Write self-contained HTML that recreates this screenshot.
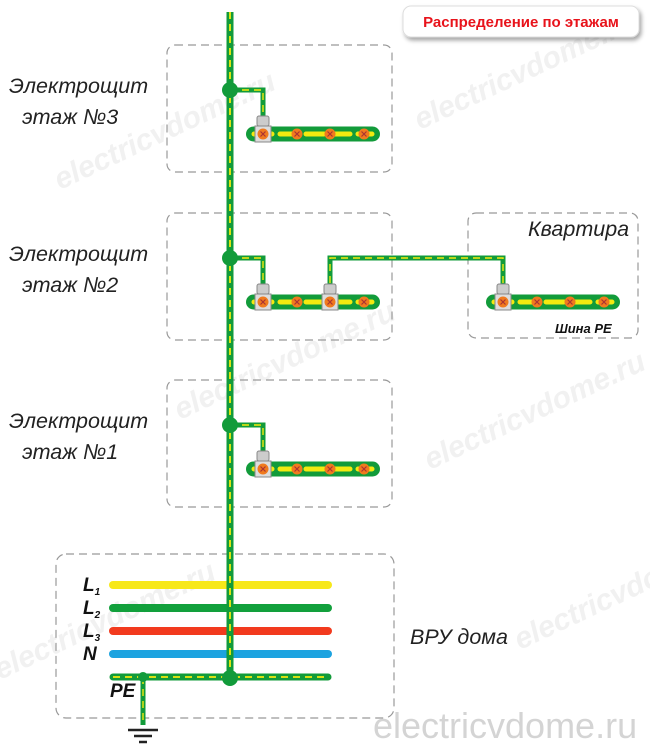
<!DOCTYPE html>
<html><head><meta charset="utf-8"><style>
html,body{margin:0;padding:0;background:#fff;}
svg{display:block;font-family:"Liberation Sans",sans-serif;}
</style></head><body>
<svg width="650" height="753" viewBox="0 0 650 753" xmlns="http://www.w3.org/2000/svg">
<defs>
<filter id="sh" x="-10%" y="-30%" width="130%" height="180%"><feDropShadow dx="2" dy="3" stdDeviation="2" flood-color="#000" flood-opacity="0.35"/></filter>
<g id="scr"><circle r="5.5" fill="#f07a1e"/><path d="M-2.5,-2.5L2.5,2.5M2.5,-2.5L-2.5,2.5" stroke="#a33" stroke-width="1.2"/></g>
<g id="term"><rect x="-6" y="-18" width="12" height="10" rx="2" fill="#ccc" stroke="#888"/><rect x="-8" y="-8" width="16" height="16" fill="#ddd" stroke="#888"/><use href="#scr"/></g>
<g id="bar">
<rect x="0" y="-7.5" width="134" height="15" rx="7.5" fill="#129b3a"/>
<line x1="8" y1="0" x2="126" y2="0" stroke="#f3ea10" stroke-width="5" stroke-dasharray="18,8" stroke-linecap="round"/>
<use href="#scr" x="17"/><use href="#scr" x="51"/><use href="#scr" x="84"/><use href="#scr" x="118"/>
</g>
</defs>
<!-- watermarks -->
<g fill="#f1f1f1" font-size="30" font-weight="bold" font-style="italic">
<text transform="translate(60,190) rotate(-25)">electricvdome.ru</text>
<text transform="translate(420,130) rotate(-25)">electricvdome.ru</text>
<text transform="translate(180,420) rotate(-25)">electricvdome.ru</text>
<text transform="translate(430,470) rotate(-25)">electricvdome.ru</text>
<text transform="translate(0,680) rotate(-25)">electricvdome.ru</text>
<text transform="translate(520,650) rotate(-25)">electricvdome.ru</text>
</g>
<text x="373" y="738" fill="#d4d4d4" font-size="36">electricvdome.ru</text>
<!-- dashed boxes -->
<g fill="none" stroke="#999" stroke-width="1.2" stroke-dasharray="8,5">
<rect x="167" y="45" width="225" height="127" rx="8"/>
<rect x="167" y="213" width="225" height="127" rx="8"/>
<rect x="167" y="380" width="225" height="127" rx="8"/>
<rect x="468" y="213" width="170" height="125" rx="8"/>
<rect x="56" y="554" width="338" height="164" rx="10"/>
</g>
<!-- title -->
<rect x="403" y="6" width="236" height="31" rx="8" fill="#fff" stroke="#ddd" filter="url(#sh)"/>
<text x="521" y="27" text-anchor="middle" fill="#e8131b" font-size="15" font-weight="bold">Распределение по этажам</text>
<!-- labels -->
<g font-size="21.5" font-style="italic" fill="#222">
<text x="9" y="93">Электрощит</text><text x="22" y="124">этаж №3</text>
<text x="9" y="261">Электрощит</text><text x="22" y="292">этаж №2</text>
<text x="9" y="428">Электрощит</text><text x="22" y="459">этаж №1</text>
<text x="528" y="236">Квартира</text>
<text x="410" y="644">ВРУ дома</text>
</g>
<text x="555" y="333" font-size="13" font-weight="bold" font-style="italic" fill="#111">Шина PE</text>
<!-- VRU lines -->
<g stroke-width="8" stroke-linecap="round">
<line x1="113" y1="585" x2="328" y2="585" stroke="#f7e81a"/>
<line x1="113" y1="608" x2="328" y2="608" stroke="#12a03c"/>
<line x1="113" y1="631" x2="328" y2="631" stroke="#f23a1e"/>
<line x1="113" y1="654" x2="328" y2="654" stroke="#1ca3e0"/>
</g>
<g font-size="19" font-weight="bold" font-style="italic" fill="#111">
<text x="83" y="591">L<tspan font-size="10" dy="4">1</tspan></text>
<text x="83" y="614">L<tspan font-size="10" dy="4">2</tspan></text>
<text x="83" y="637">L<tspan font-size="10" dy="4">3</tspan></text>
<text x="83" y="660">N</text>
<text x="110" y="697">PE</text>
</g>
<!-- PE conductors -->
<g fill="none" stroke-linejoin="miter">
<g stroke="#129b3a" stroke-width="7">
<line x1="230" y1="12" x2="230" y2="680"/>
<line x1="113" y1="677" x2="328" y2="677" stroke-linecap="round"/>
<line x1="143" y1="677" x2="143" y2="725" stroke-width="5"/>
<polyline points="230,90 263,90 263,127" stroke-width="5"/>
<polyline points="230,258 263,258 263,295" stroke-width="5"/>
<polyline points="330,295 330,258 503,258 503,295" stroke-width="5"/>
<polyline points="230,425 263,425 263,461" stroke-width="5"/>
</g>
<g stroke="#f3ea10" stroke-width="1.8" stroke-dasharray="7,5">
<line x1="230" y1="12" x2="230" y2="680"/>
<line x1="113" y1="677" x2="328" y2="677"/>
<line x1="143" y1="677" x2="143" y2="725" stroke-width="1.4"/>
<polyline points="230,90 263,90 263,127" stroke-width="1.4"/>
<polyline points="230,258 263,258 263,295" stroke-width="1.4"/>
<polyline points="330,295 330,258 503,258 503,295" stroke-width="1.4"/>
<polyline points="230,425 263,425 263,461" stroke-width="1.4"/>
</g>
</g>
<g fill="#129b3a">
<circle cx="230" cy="90" r="8"/><circle cx="230" cy="258" r="8"/><circle cx="230" cy="425" r="8"/>
<circle cx="230" cy="678" r="8"/><circle cx="143" cy="677" r="5"/>
</g>
<!-- ground -->
<g stroke="#222" stroke-width="2.5">
<line x1="128" y1="730" x2="158" y2="730"/><line x1="134" y1="736" x2="152" y2="736"/><line x1="139" y1="742" x2="147" y2="742"/>
</g>
<!-- bars -->
<use href="#bar" x="246" y="134"/>
<use href="#bar" x="246" y="302"/>
<use href="#bar" x="246" y="469"/>
<use href="#bar" x="486" y="302"/>
<use href="#term" x="263" y="134"/>
<use href="#term" x="263" y="302"/>
<use href="#term" x="330" y="302"/>
<use href="#term" x="503" y="302"/>
<use href="#term" x="263" y="469"/>
</svg>
</body></html>
